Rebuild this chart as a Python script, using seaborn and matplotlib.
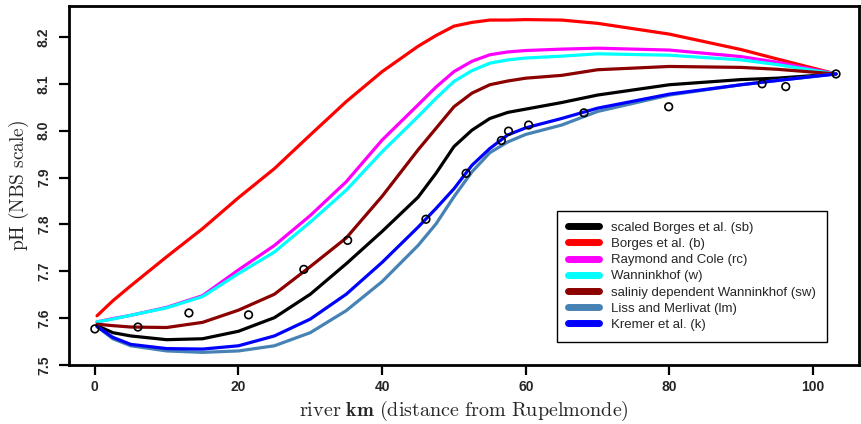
import matplotlib
matplotlib.use("Agg")
import matplotlib.pyplot as plt
import seaborn as sns
import pandas as pd
import numpy as np

# ---- data ----
km = [0.3, 2.5, 5, 10, 15, 20, 25, 30, 35, 40, 45, 47.5, 50, 52.5, 55, 57.5, 60, 65, 70, 80, 90, 95, 103.2]

sb = [7.584, 7.569, 7.562, 7.554, 7.556, 7.572, 7.601, 7.651, 7.716, 7.785, 7.858, 7.909, 7.966, 8.001, 8.026, 8.039, 8.046, 8.060, 8.076, 8.098, 8.109, 8.112, 8.121]
b  = [7.605, 7.637, 7.669, 7.731, 7.791, 7.857, 7.919, 7.991, 8.062, 8.126, 8.180, 8.203, 8.223, 8.231, 8.236, 8.236, 8.237, 8.236, 8.229, 8.206, 8.173, 8.153, 8.121]
rc = [7.592, 7.599, 7.606, 7.623, 7.648, 7.703, 7.755, 7.819, 7.891, 7.980, 8.055, 8.093, 8.126, 8.148, 8.162, 8.168, 8.171, 8.174, 8.176, 8.172, 8.158, 8.146, 8.121]
w  = [7.592, 7.598, 7.606, 7.622, 7.646, 7.695, 7.741, 7.805, 7.873, 7.955, 8.030, 8.069, 8.105, 8.128, 8.144, 8.151, 8.155, 8.159, 8.164, 8.161, 8.151, 8.141, 8.121]
sw = [7.587, 7.584, 7.581, 7.580, 7.591, 7.617, 7.651, 7.710, 7.771, 7.860, 7.959, 8.005, 8.051, 8.080, 8.098, 8.106, 8.112, 8.118, 8.130, 8.137, 8.135, 8.131, 8.121]
lm = [7.582, 7.556, 7.541, 7.530, 7.527, 7.530, 7.541, 7.569, 7.616, 7.678, 7.755, 7.801, 7.859, 7.912, 7.953, 7.976, 7.992, 8.012, 8.041, 8.076, 8.098, 8.107, 8.121]
k  = [7.582, 7.559, 7.544, 7.535, 7.534, 7.541, 7.562, 7.598, 7.651, 7.719, 7.794, 7.834, 7.876, 7.926, 7.962, 7.991, 8.006, 8.026, 8.048, 8.078, 8.098, 8.107, 8.121]

obs_km = [0.0, 6.0, 13.1, 21.4, 29.1, 35.2, 46.1, 51.7, 56.6, 57.6, 60.4, 68.1, 79.9, 92.9, 96.2, 103.2]
obs_ph = [7.577, 7.581, 7.611, 7.607, 7.704, 7.766, 7.811, 7.909, 7.979, 7.999, 8.012, 8.038, 8.051, 8.100, 8.094, 8.121]

labels = ["scaled Borges et al. (sb)", "Borges et al. (b)", "Raymond and Cole (rc)",
          "Wanninkhof (w)", "saliniy dependent Wanninkhof (sw)", "Liss and Merlivat (lm)",
          "Kremer et al. (k)"]
colors = ["black", "#FF0000", "#FF00FF", "#00FFFF", "#8B0000", "#4682B4", "#0000FF"]
series = [sb, b, rc, w, sw, lm, k]

xticks = [0, 20, 40, 60, 80, 100]
yticks = [7.5, 7.6, 7.7, 7.8, 7.9, 8.0, 8.1, 8.2]

# ---- build long-form table ----
rows = []
for lab, vals in zip(labels, series):
    for xx, yy in zip(km, vals):
        rows.append({"km": xx, "pH": yy, "model": lab})
df = pd.DataFrame(rows)
obs = pd.DataFrame({"km": obs_km, "pH": obs_ph})

sns.set_style("ticks")
plt.rcParams["font.family"] = ["Liberation Sans", "DejaVu Sans"]
plt.rcParams["mathtext.fontset"] = "cm"

fig = plt.figure(figsize=(8.61, 4.24), dpi=100)
ax = fig.add_axes([69 / 861, 1 - 365 / 424, (859 - 69) / 861, (365 - 6) / 424])

sns.lineplot(data=df, x="km", y="pH", hue="model", hue_order=labels,
             palette=dict(zip(labels, colors)), estimator=None, sort=False,
             linewidth=2.3, ax=ax, legend=True)
sns.scatterplot(data=obs, x="km", y="pH", ax=ax, marker="o", s=30,
                facecolors="none", edgecolor="black", linewidth=1.2, zorder=5)

ax.set_xlim(-3.6, 106.4)
ax.set_ylim(7.5, 8.266)
ax.set_xticks(xticks)
ax.set_yticks(yticks)
ax.set_xticklabels([str(t) for t in xticks], fontweight="bold", fontsize=10)
ax.set_yticklabels([f"{t:.1f}" for t in yticks], fontweight="bold", fontsize=10,
                   rotation=90, va="center")
ax.tick_params(axis="both", direction="out", length=7, width=1.6, color="black")
ax.tick_params(axis="x", pad=4)
ax.tick_params(axis="y", pad=6)
for sp in ax.spines.values():
    sp.set_visible(True)
    sp.set_linewidth(2.0)
    sp.set_color("black")

ax.set_xlabel(r"$\mathrm{river}\ \mathbf{km}\ \mathrm{(distance\ from\ Rupelmonde)}$",
              fontsize=14.5)
ax.xaxis.set_label_coords(0.5, -0.093)
ax.set_ylabel(r"$\mathrm{pH\ (NBS\ scale)}$", fontsize=14, labelpad=4)

handles, labs = ax.get_legend_handles_labels()
leg = ax.legend(handles[:7], labs[:7], loc="upper right", bbox_to_anchor=(0.959, 0.429),
                borderaxespad=0, fancybox=False, shadow=False, frameon=True,
                fontsize=9.5, handlelength=2.4, handletextpad=0.9, labelspacing=0.3,
                borderpad=0.8, edgecolor="black", framealpha=1)
leg.get_frame().set_linewidth(1.0)
for h in leg.legend_handles:
    h.set_linewidth(5)
    h.set_solid_capstyle("round")

fig.savefig("out.png", dpi=100)
